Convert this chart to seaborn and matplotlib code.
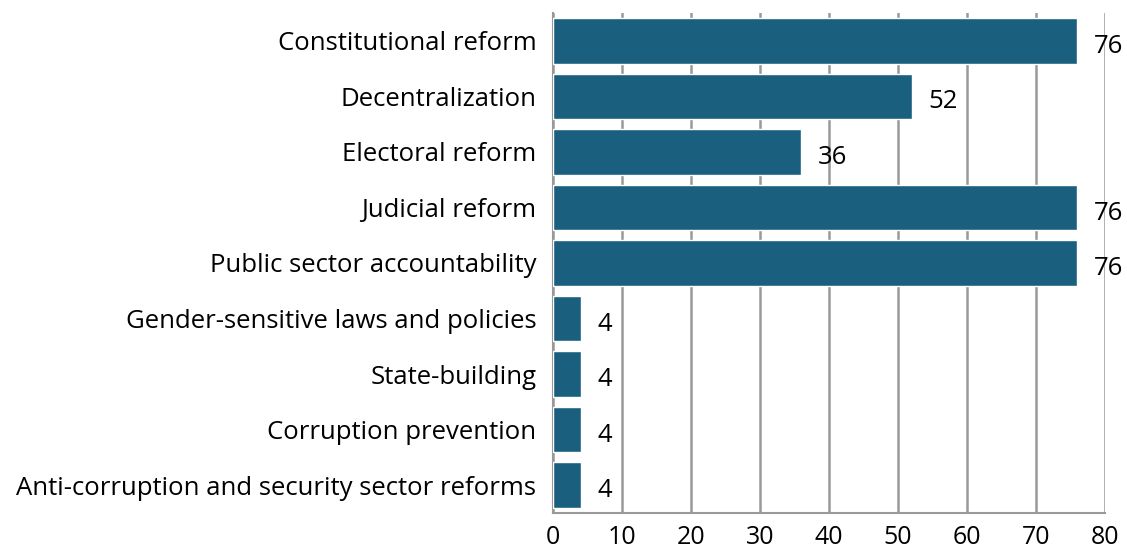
import numpy as np
import pandas as pd
import matplotlib
matplotlib.use("Agg")
import matplotlib.pyplot as plt
import seaborn as sns

categories = [
    "Constitutional reform",
    "Decentralization",
    "Electoral reform",
    "Judicial reform",
    "Public sector accountability",
    "Gender-sensitive laws and policies",
    "State-building",
    "Corruption prevention",
    "Anti-corruption and security sector reforms",
]
values = [76, 52, 36, 76, 76, 4, 4, 4, 4]
x_ticks = [0, 10, 20, 30, 40, 50, 60, 70, 80]

df = pd.DataFrame({"Area": categories, "Count": values})

sns.set_style("white")
plt.rcParams["font.family"] = ["Open Sans", "DejaVu Sans"]
plt.rcParams["text.color"] = "black"
plt.rcParams["xtick.labelcolor"] = "black"
plt.rcParams["ytick.labelcolor"] = "black"

fig = plt.figure(figsize=(11.27, 5.58), dpi=100)
ax = fig.add_axes([553 / 1127, 45 / 558, 552 / 1127, 500 / 558])

sns.barplot(data=df, x="Count", y="Area", color="#1b5f7f", saturation=1,
            width=0.82, orient="h", ax=ax, zorder=3)

ax.set_xlim(0, 80)
ax.set_xticks(x_ticks)
ax.set_xticklabels([str(t) for t in x_ticks], fontsize=18)
ax.tick_params(axis="y", labelsize=18.5, length=0, pad=12)
ax.tick_params(axis="x", length=8, width=1.5, color="#999999", pad=1)
ax.set_yticks(np.arange(-0.5, len(categories), 1), minor=True)
ax.tick_params(axis="y", which="minor", length=8, width=1.5, color="#999999")
ax.set_xlabel("")
ax.set_ylabel("")

ax.grid(axis="x", color="#999999", linewidth=1.8, zorder=0)
for side in ["top", "right"]:
    ax.spines[side].set_visible(False)
for side in ["left", "bottom"]:
    ax.spines[side].set_color("#999999")
    ax.spines[side].set_linewidth(1.5)

for i, v in enumerate(values):
    ax.annotate(str(v), (v, i), xytext=(12, -4), textcoords="offset points",
                ha="left", va="center", fontsize=18.5, zorder=5)

fig.savefig("out.png", dpi=100)
